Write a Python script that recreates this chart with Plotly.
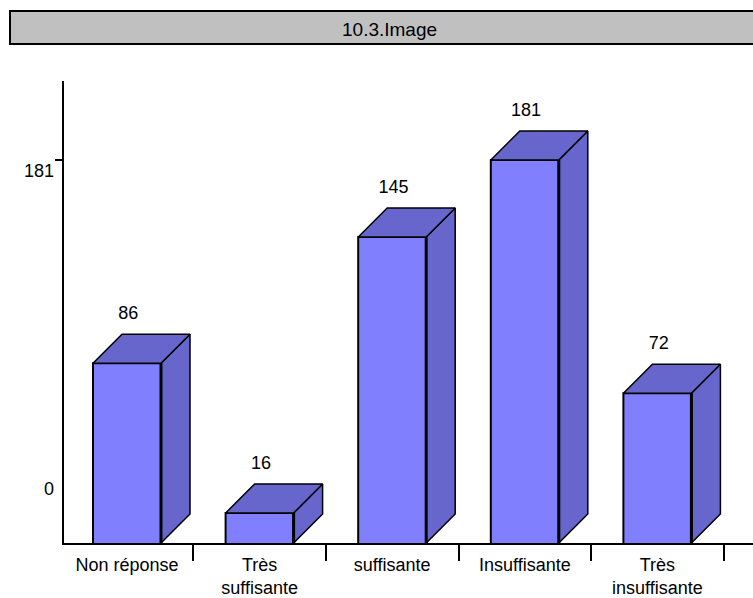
import plotly.graph_objects as go

categories = ["Non réponse", "Très<br>suffisante", "suffisante", "Insuffisante", "Très<br>insuffisante"]
values = [86, 16, 145, 181, 72]
title_text = "10.3.Image"
y_labels = ["181", "0"]

W, H = 753, 598
PX_X = 132.6
PX_Y = 2.14
LEFT, BASE, TOP = 64, 543, 81
FONT = "Liberation Sans, Arial, sans-serif"
FS = 18
FS_TEXT = 19
FS_CAT = 18
FRONT = "#8080FF"
SIDE = "#6666CC"

bar_w = 68 / PX_X
dx = 29 / PX_X
dy = 29 / PX_Y
y_min = 2.0
y_max = y_min + (BASE - TOP) / PX_Y
x_min = (LEFT - 127) / PX_X
x_max = (W - 127) / PX_X
idx = list(range(len(values)))

fig = go.Figure()
fig.add_trace(go.Bar(x=idx, y=values, width=bar_w, marker=dict(color=FRONT, line=dict(color="black", width=2)),
                     hoverinfo="skip"))
for i, v in zip(idx, values):
    xl, xr = i - bar_w / 2, i + bar_w / 2
    fig.add_trace(go.Scatter(x=[xr, xr + dx, xr + dx, xr, xr], y=[y_min, y_min + dy, v + dy, v, y_min],
                             mode="lines", fill="toself", fillcolor=SIDE, line=dict(color="black", width=1.5),
                             hoverinfo="skip"))
    fig.add_trace(go.Scatter(x=[xl, xl + dx, xr + dx, xr, xl], y=[v, v + dy, v + dy, v, v],
                             mode="lines", fill="toself", fillcolor=SIDE, line=dict(color="black", width=1.5),
                             hoverinfo="skip"))
    fig.add_trace(go.Scatter(x=[xr, xr], y=[y_min, v], mode="lines", line=dict(color="black", width=3),
                             hoverinfo="skip"))
fig.add_trace(go.Scatter(x=[i + 0.01 for i in idx], y=[v + dy + 9 for v in values], mode="text",
                         text=[str(v) for v in values], textposition="middle center",
                         textfont=dict(family=FONT, size=FS, color="black"), hoverinfo="skip"))

fig.update_layout(
    width=W, height=H, margin=dict(l=0, r=0, t=0, b=0), showlegend=False,
    paper_bgcolor="white", plot_bgcolor="white",
    font=dict(family=FONT, size=FS, color="black"),
    xaxis=dict(domain=[LEFT / W, 1], range=[x_min, x_max], tickmode="array", tickvals=idx, ticktext=categories,
               ticks="", showgrid=False, zeroline=False, showline=True, linecolor="black", linewidth=2,
               automargin=False, ticklabelstandoff=4, tickfont=dict(family=FONT, size=FS_CAT),
               minor=dict(tickmode="array", tickvals=[i + 0.5 for i in idx], ticks="outside", ticklen=16,
                          tickwidth=2, tickcolor="black", showgrid=False)),
    yaxis=dict(domain=[(H - BASE) / H, (H - TOP) / H], range=[y_min, y_max], tickmode="array", tickvals=[181],
               ticktext=[""], ticks="outside", ticklen=7, tickwidth=2, tickcolor="black", showgrid=False,
               automargin=False, zeroline=False, showline=True, linecolor="black", linewidth=2),
    shapes=[dict(type="rect", xref="paper", yref="paper", x0=10 / W, x1=1.02, y0=1 - 44 / H, y1=1 - 11 / H,
                 fillcolor="#C0C0C0", line=dict(color="black", width=2))],
    annotations=[
        dict(text=title_text, xref="paper", yref="paper", x=389 / W, y=1 - 30 / H, xanchor="center", yanchor="middle",
             showarrow=False, font=dict(family=FONT, size=FS_TEXT)),
        dict(text=y_labels[0], xref="x domain", yref="y", x=0, y=181, xanchor="right", yanchor="middle",
             xshift=-8, yshift=-11, showarrow=False, font=dict(family=FONT, size=FS)),
        dict(text=y_labels[1], xref="x domain", yref="y", x=0, y=y_min, xanchor="right", yanchor="middle",
             xshift=-8, yshift=54, showarrow=False, font=dict(family=FONT, size=FS)),
    ],
)
fig.write_html("out.html", config=dict(displayModeBar=False),
               post_script="document.body.style.margin='0';document.body.style.overflow='hidden';")
